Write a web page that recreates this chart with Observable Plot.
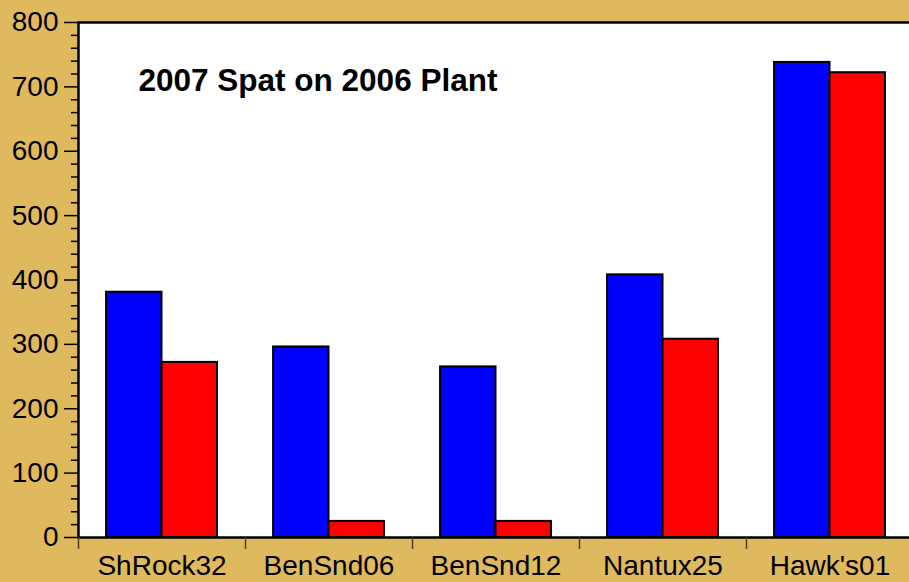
<!DOCTYPE html>
<html>
<head>
<meta charset="utf-8">
<script src="https://cdn.jsdelivr.net/npm/d3@7"></script>
<script src="https://cdn.jsdelivr.net/npm/@observablehq/plot@0.6"></script>
<style>
  html, body { margin: 0; padding: 0; background: #DEB95E; overflow: hidden; }
  #chart { width: 909px; height: 582px; }
</style>
</head>
<body>
<div id="chart"></div>
<script>
const title = "2007 Spat on 2006 Plant";
const sites = ["ShRock32", "BenSnd06", "BenSnd12", "Nantux25", "Hawk's01"];
const blueValues = [381, 296, 265, 408, 738];
const redValues = [272, 25, 25, 308, 722];
const yTicks = [0, 100, 200, 300, 400, 500, 600, 700, 800];
const yMinorTicks = d3.range(0, 801, 20).filter(v => v % 100 !== 0);

const blueData = sites.map((s, i) => ({site: s, value: blueValues[i]}));
const redData = sites.map((s, i) => ({site: s, value: redValues[i]}));

const W = 909, H = 582, mL = 78, mR = -4;
const bw = (W - mL - mR) / sites.length;
const outer = bw * 0.168;
const half = bw / 2;
const font = "'Liberation Sans', Arial, Helvetica, sans-serif";

const chart = Plot.plot({
  width: W,
  height: H,
  marginLeft: mL,
  marginRight: mR,
  marginTop: 22,
  marginBottom: 45,
  style: {background: "transparent", fontFamily: font, color: "black", overflow: "visible"},
  x: {type: "band", domain: sites, padding: 0},
  y: {domain: [0, 800]},
  marks: [
    Plot.frame({fill: "white"}),
    Plot.barY(blueData, {x: "site", y: "value", fill: "#0000FF", stroke: "black", strokeWidth: 2, insetLeft: outer, insetRight: half}),
    Plot.barY(redData, {x: "site", y: "value", fill: "#FF0000", stroke: "black", strokeWidth: 2, insetLeft: half, insetRight: outer}),
    Plot.frame({stroke: "black", strokeWidth: 2.5}),
    Plot.axisY({ticks: yTicks, tickSize: 14, tickPadding: 6, fontSize: 28, label: null, stroke: "black", strokeWidth: 1.5}),
    Plot.axisY({ticks: yMinorTicks, tickSize: 7, tickFormat: () => "", label: null, stroke: "black", strokeWidth: 1.5}),
    Plot.axisX({tickSize: 0, tickPadding: 18, fontSize: 28, label: null}),
    Plot.axisX({tickSize: 12, tickFormat: () => "", dx: -half, label: null, stroke: "#4a4020", strokeWidth: 1.5}),
    Plot.text([title], {frameAnchor: "top-left", dx: 60, dy: 46, lineAnchor: "top", textAnchor: "start", fontSize: 31.5, fontWeight: "bold", fill: "black"})
  ]
});
document.getElementById("chart").appendChild(chart);
</script>
</body>
</html>
